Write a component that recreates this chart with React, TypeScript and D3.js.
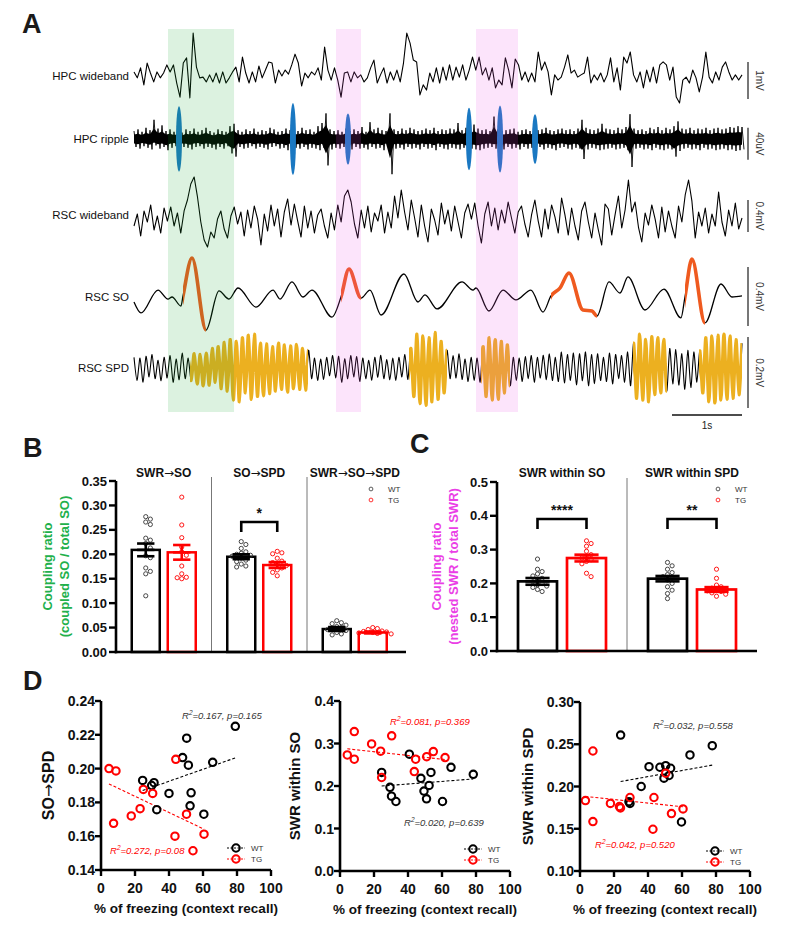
import React from 'react';
import * as d3 from 'd3';

const FONT = "Arial, 'Liberation Sans', Helvetica, sans-serif";

// ---------------- Panel A data ----------------
const traceDuration = 8.686; // seconds shown
const hpcWideband = [
  0.11,-0.05,0.22,-0.24,0.35,0.08,-0.16,0.11,-0.05,0.08,
  0.30,0.11,0.30,-0.19,-0.57,0.35,0.49,-0.59,1.16,0.24,
  -0.05,-0.03,-0.16,0.03,-0.16,0.08,-0.19,0.11,-0.19,-0.05,
  0.11,0.24,-0.16,0.51,0.08,-0.19,0.11,-0.16,0.27,-0.05,
  0.16,0.38,0.35,-0.19,0.16,0,0.16,0.05,0.30,0.59,
  0.35,-0.27,0.08,-0.05,0.11,0.03,0.22,-0.11,0.78,0.16,
  -0.11,0.22,-0.11,-0.57,0.08,0.11,-0.16,0.11,-0.05,0.03,
  -0.16,-0.05,0.22,0.43,-0.19,0.03,0.22,-0.19,0.11,-0.11,
  0.16,-0.16,0.35,
  1.16,0.89,0.43,0.38,-0.51,-0.24,-0.38,0.08,-0.16,0.22,
  -0.19,0.24,-0.11,0.30,-0.11,0.24,-0.03,0.30,-0.11,0.16,
  0.51,0.16,0.51,0.03,0.22,-0.11,0.22,-0.32,-0.11,-0.24,
  0.49,0.16,-0.32,0.46,0.30,-0.11,0.11,-0.16,0.08,-0.16,
  0.65,0.16,0.38,0.11,-0.51,0.03,-0.11,-0.03,0.24,0.57,
  0.08,0.16,-0.03,0.03,0.08,0.51,-0.19,0.03,-0.11,0.08,
  -0.16,0.03,0.49,-0.16,0.22,-0.38,0.51,0.35,0.65,0.03,
  -0.16,0.11,-0.32,0.16,-0.16,0.24,-0.19,0.30,0.38,0.30,
  -0.11,0.24,-0.57,-0.73,-0.11,-0.03,-0.19,0.16,-0.05,-0.43,
  -0.03,0.65,-0.03,-0.19,0.11,-0.11,0.24,0.38,0.11,-0.11,
  0.03,-0.11,0.03,
]; // mV

const rippleUpper = [
  10,12,9,14,11,24,13,17,10,12, 9,11,8,12,10,13,9,11,14,10,
  8,12,10,9,16,19,11,9,12,10, 13,9,11,10,14,12,9,10,13,11,
  12,10,14,11,12,9,16,20,32,12, 10,11,9,13,10,12,10,15,9,21,
  12,14,11,10,32,12,10,13,11,14, 12,10,11,13,11,14,10,12,11,13,
  12,20,11,14,12,18,13,11,12,10, 28,12,10,11,12,13,9,11,12,10,
  13,11,12,14,11,10,12,13,11,12, 10,13,24,14,12,11,13,19,13,12,
  11,14,12,15,31,13,11,12,10,14, 12,15,11,14,12,16,22,13,12,14,
  11,13,12,14,11,13,14,12,13,15,14,16,15,
]; // µV
const rippleLower = [
  -10,-12,-9,-11,-13,-8,-12,-10,-14,-11, -9,-12,-10,-11,-13,-10,-9,-12,-10,-11,
  -13,-10,-12,-9,-18,-22,-10,-12,-11,-9, -12,-10,-11,-13,-10,-9,-12,-11,-14,-10,
  -11,-12,-10,-13,-11,-12,-14,-11,-33,-13, -11,-12,-10,-11,-13,-10,-12,-11,-13,-10,
  -12,-11,-14,-10,-44,-12,-11,-13,-10,-12, -11,-13,-10,-12,-11,-14,-10,-12,-13,-11,
  -12,-13,-11,-15,-12,-13,-14,-12,-11,-10, -12,-11,-13,-10,-12,-11,-13,-10,-12,-11,
  -12,-10,-13,-11,-12,-14,-11,-10,-12,-13, -11,-12,-25,-13,-11,-12,-14,-13,-12,-11,
  -13,-12,-11,-14,-35,-12,-11,-13,-12,-14, -11,-13,-14,-12,-13,-22,-15,-12,-11,-13,
  -12,-14,-11,-13,-12,-14,-13,-12,-14,-13,-15,-14,-13,
]; // µV
const rippleEventTimes = [0.643, 2.271, 3.057, 4.786, 5.229, 5.729]; // s
const rippleEventAmps = [41, 45, 32, 39, 42, 31]; // µV

const rscWideband = [
  -100,50,-225,88,-50,163,-150,25,-188,125,-38,138,-100,63,-188,88,225,425,513,263,-50,-275,-363,-175,-250,-13,88,-138,-250,25,
  138,-75,75,-225,100,-125,150,-13,-338,50,-163,163,-100,113,-238,75,238,-88,175,-38,-238,150,-125,88,-188,38,113,-100,-250,63,-150,
  163,-50,275,350,200,-75,-250,100,-125,150,-175,63,-38,163,-188,75,-125,275,0,
  350,75,-150,225,0,-238,163,-100,-300,113,-25,-213,188,-75,100,-163,150,-50,-250,63,175,-13,188,-100,
  -313,50,200,-100,125,-150,100,-63,200,0,-188,75,150,-75,-238,38,225,-38,-238,113,-138,163,13,-188,
  250,38,-213,125,-100,-275,88,200,-50,-250,63,-150,-338,175,113,-213,38,275,-125,100,475,75,200,-113,
  -300,63,-88,163,-13,-250,138,-175,88,-100,-250,150,-50,288,475,213,-250,75,-100,125,-188,50,-100,325,-50,-225,100,-100,188,-138,0,
]; // µV

const soTimes = [
  0,0.1,0.343,0.486,0.543,0.671,0.7,0.829,1.029,1.214,1.357,1.486,1.743,1.986,2.086,2.257,2.414,2.543,2.829,2.957,
  3.071,3.243,3.371,3.529,3.857,4.057,4.157,4.329,4.686,4.843,4.886,5.071,5.271,5.457,5.671,5.843,5.957,6.086,6.214,6.414,
  6.543,6.614,6.786,6.943,7.057,7.3,7.571,7.814,7.871,7.971,8.157,8.386,8.543,8.686,
];
const soValues = [
  -0.034,-0.108,0.047,-0.014,0,-0.061,0.007,0.264,-0.224,0.041,-0.014,0.061,-0.068,0.047,-0.014,0.102,0,0.047,-0.136,0,
  0.19,-0.007,0.047,-0.122,0.156,-0.034,0.014,-0.081,0.102,0.047,0.061,-0.095,0.047,-0.02,0.047,-0.102,0.007,0.061,0.163,-0.088,
  -0.095,-0.129,0.102,0.027,0.136,-0.088,0.054,-0.142,0,0.258,-0.176,0.088,0,0.007,
]; // mV
const soEventWindows = [[0.7, 1.029], [2.957, 3.243], [5.957, 6.614], [7.871, 8.157]];

const spdValues = [
  30,-35,28,-40,33,-25,38,-30,22,-36,30,-28,35,-40,25,-33,42,-30,28,
  -35,40,-45,38,-50,42,-48,55,-40,60,-58,72,-65,80,-90,75,-95,85,-70,92,-88,95,-80,70,-78,68,-72,60,-65,70,-60,65,-68,62,-58,66,-60,55,-62,50,
  -30,28,-35,25,-32,30,-22,35,-28,33,-40,26,-30,35,-25,32,-38,28,-30,22,-34,30,-26,36,-30,24,-33,28,-35,30,-25,38,-32,
  55,-80,95,-100,90,-105,85,-95,100,-88,75,-70,50,
  -30,35,-28,40,-32,25,-38,30,-35,28,-40,
  60,-80,85,-90,80,-88,75,-70,65,-50,
  30,-35,28,-38,32,-30,35,-40,30,-28,36,-33,40,-35,30,-38,45,-42,38,-35,42,-48,40,-36,45,-50,38,-44,40,-35,30,-38,42,-45,38,-30,35,-40,45,-50,
  70,-85,95,-90,80,-95,88,-75,85,-70,80,-65,55,
  -45,52,-48,40,-60,50,-55,45,-40,48,
  -70,85,-95,90,-98,92,-90,95,-88,90,-85,80,-75,70,
]; // µV
const spdEventWindows = [[0.8, 2.486], [3.929, 4.471], [4.957, 5.371], [7.129, 7.614], [8.071, 8.686]];
const greenWindows = [[0.486, 1.429]];
const pinkWindows = [[2.886, 3.243], [4.886, 5.486]];

// ---------------- Panel B data ----------------
const bGroups = ['SWR→SO', 'SO→SPD', 'SWR→SO→SPD'];
const bWTMean = [0.209, 0.195, 0.047];
const bWTSem = [0.013, 0.005, 0.004];
const bTGMean = [0.204, 0.178, 0.040];
const bTGSem = [0.015, 0.006, 0.002];
const bWTDots = [
  [0.277, 0.272, 0.266, 0.261, 0.233, 0.229, 0.222, 0.213, 0.197, 0.193, 0.172, 0.165, 0.160, 0.115],
  [0.226, 0.220, 0.212, 0.205, 0.202, 0.200, 0.198, 0.196, 0.192, 0.188, 0.185, 0.180, 0.176, 0.174],
  [0.064, 0.060, 0.058, 0.055, 0.052, 0.050, 0.048, 0.046, 0.044, 0.040, 0.037, 0.035],
];
const bTGDots = [
  [0.317, 0.260, 0.234, 0.215, 0.205, 0.198, 0.176, 0.160, 0.153, 0.152, 0.150],
  [0.206, 0.203, 0.201, 0.192, 0.186, 0.183, 0.180, 0.177, 0.172, 0.168, 0.163, 0.156],
  [0.050, 0.048, 0.046, 0.043, 0.042, 0.041, 0.040, 0.039, 0.038, 0.037],
];
const bTicks = [0, 0.05, 0.1, 0.15, 0.2, 0.25, 0.3, 0.35];

// ---------------- Panel C data ----------------
const cGroups = ['SWR within SO', 'SWR within SPD'];
const cWTMean = [0.206, 0.214];
const cWTSem = [0.010, 0.008];
const cTGMean = [0.275, 0.182];
const cTGSem = [0.010, 0.007];
const cWTDots = [
  [0.272, 0.242, 0.235, 0.228, 0.222, 0.215, 0.210, 0.205, 0.200, 0.196, 0.192, 0.188, 0.182, 0.176],
  [0.262, 0.252, 0.242, 0.232, 0.226, 0.220, 0.215, 0.210, 0.200, 0.190, 0.180, 0.170, 0.155],
];
const cTGDots = [
  [0.326, 0.318, 0.310, 0.295, 0.285, 0.280, 0.275, 0.270, 0.265, 0.258, 0.230, 0.220],
  [0.242, 0.215, 0.195, 0.190, 0.186, 0.183, 0.180, 0.178, 0.176, 0.172, 0.168, 0.162],
];
const cTicks = [0, 0.1, 0.2, 0.3, 0.4, 0.5];
const cStars = ['****', '**'];

// ---------------- Panel D data ----------------
const freezeTicks = [0, 20, 40, 60, 80, 100];
const d1WTx = [79, 50.4, 48, 51.4, 65.7, 24.5, 31.2, 29.8, 40, 53, 52.4, 60.5, 32.8];
const d1WTy = [0.225, 0.218, 0.2065, 0.202, 0.2037, 0.193, 0.1917, 0.19, 0.1853, 0.1857, 0.178, 0.173, 0.1757];
const d1TGx = [4.7, 8.8, 44, 24.9, 30.4, 7.4, 17.8, 23, 43.5, 50.3, 54.1, 60.6];
const d1TGy = [0.2, 0.1986, 0.2055, 0.1877, 0.1853, 0.1676, 0.172, 0.1763, 0.16, 0.173, 0.1514, 0.1612];
const d1Fit = { wtSlope: 0.000355, wtIntercept: 0.1783, tgSlope: -0.000479, tgIntercept: 0.1932 };

const d2WTx = [40.8, 24.5, 53.5, 65.3, 78.4, 47.6, 29.4, 52.4, 49.4, 30.3, 32.9, 50.9, 60.3];
const d2WTy = [0.275, 0.232, 0.232, 0.244, 0.2275, 0.218, 0.197, 0.2014, 0.188, 0.176, 0.1635, 0.1698, 0.1635];
const d2TGx = [4.3, 8.4, 8.4, 18.6, 23.9, 30.4, 44.5, 51, 54.9, 61.8, 43.7, 24.5];
const d2TGy = [0.273, 0.328, 0.263, 0.299, 0.282, 0.318, 0.263, 0.269, 0.281, 0.267, 0.234, 0.220];
const d2Fit = { wtSlope: 0.000306, wtIntercept: 0.1925, tgSlope: -0.000439, tgIntercept: 0.2894 };

const d3WTx = [23.9, 77.8, 64.7, 40.6, 47, 50.4, 53.3, 52.4, 49.4, 36, 28.8, 29.4, 59.7];
const d3WTy = [0.2608, 0.2483, 0.2373, 0.2235, 0.2228, 0.2247, 0.2216, 0.213, 0.2099, 0.200, 0.182, 0.180, 0.158];
const d3TGx = [3.2, 7.6, 17.9, 23.2, 23.8, 29.4, 43.5, 42.9, 53.8, 60.6, 7.6, 50.4];
const d3TGy = [0.1834, 0.1585, 0.180, 0.1763, 0.1747, 0.187, 0.187, 0.1494, 0.168, 0.1735, 0.242, 0.2157];
const d3Fit = { wtSlope: 0.00036, wtIntercept: 0.1973, tgSlope: -0.000213, tgIntercept: 0.1889 };

const dStats = [
  { wt: ['0.167', '0.165'], tg: ['0.272', '0.08'] },
  { wt: ['0.020', '0.639'], tg: ['0.081', '0.369'] },
  { wt: ['0.032', '0.558'], tg: ['0.042', '0.520'] },
];

// ---------------- helpers ----------------
function swarm(values: number[], y: (v: number) => number, r: number, step: number): number[] {
  const placed: { x: number; y: number }[] = [];
  return values.map((v) => {
    const py = y(v);
    const cands = [0];
    for (let k = 1; k < 10; k++) cands.push(k * step, -k * step);
    let off = 0;
    for (const c of cands) {
      if (placed.every((p) => (p.x - c) ** 2 + (p.y - py) ** 2 >= (2 * r + 0.4) ** 2)) { off = c; break; }
    }
    placed.push({ x: off, y: py });
    return off;
  });
}

const GREEN_OVER = 'rgb(21,168,48)';
const PINK_OVER = 'rgb(235,75,229)';
const RED = '#ff0000';
const GOLD = '#ecb020';
const SO_ORANGE = '#ef5a1f';
const BLUE = '#1a78c2';
const ARROW_FONT = "'DejaVu Sans', Arial, sans-serif";

function ArrowLabel(props: { text: string; x: number; y: number; size: number; anchor?: string; transform?: string }) {
  const parts = props.text.split('→');
  return (
    <text x={props.x} y={props.y} transform={props.transform} fontSize={props.size} fontWeight="bold" textAnchor={props.anchor || 'middle'} fill="#111">
      {parts.map((s, i) => (
        <React.Fragment key={i}>
          {i > 0 && <tspan fontFamily={ARROW_FONT} fontWeight="normal">→</tspan>}
          <tspan>{s}</tspan>
        </React.Fragment>
      ))}
    </text>
  );
}

function PanelA() {
  const t = d3.scaleLinear().domain([0, traceDuration]).range([134, 742]);
  const idxT = (n: number) => (i: number) => t((i * traceDuration) / (n - 1));

  const yHW = d3.scaleLinear().domain([-1, 1]).range([76 + 37, 76 - 37]);
  const yRip = d3.scaleLinear().domain([-40, 40]).range([139 + 32, 139 - 32]);
  const yRW = d3.scaleLinear().domain([-400, 400]).range([218 + 32, 218 - 32]);
  const ySO = d3.scaleLinear().domain([-0.2, 0.2]).range([297 + 29.5, 297 - 29.5]);
  const ySPD = d3.scaleLinear().domain([-100, 100]).range([368 + 35.5, 368 - 35.5]);

  const xHW = idxT(hpcWideband.length);
  const hwPath = d3.line<number>().x((_, i) => xHW(i)).y((v) => yHW(v))(hpcWideband) || '';
  const nR = rippleUpper.length;
  const xRip = idxT(nR);
  const dtR = (t(traceDuration) - t(0)) / (nR - 1);
  const ripCore = d3.area<number>().x((_, i) => xRip(i)).y1((v) => yRip(v * 0.55)).y0((_, i) => yRip(rippleLower[i] * 0.55))(rippleUpper) || '';
  const zig: [number, number][] = [];
  rippleUpper.forEach((v, i) => {
    zig.push([xRip(i), yRip(v)]);
    zig.push([xRip(i) + dtR / 2, yRip(rippleLower[i])]);
  });
  const ripZig = d3.line()(zig) || '';
  const xRW = idxT(rscWideband.length);
  const rwPath = d3.line<number>().x((_, i) => xRW(i)).y((v) => yRW(v))(rscWideband) || '';
  const soPath = d3.line<number>().x((_, i) => t(soTimes[i])).y((v) => ySO(v)).curve(d3.curveMonotoneX)(soValues) || '';
  const xSPD = idxT(spdValues.length);
  const spdPath = d3.line<number>().x((_, i) => xSPD(i)).y((v) => ySPD(v)).curve(d3.curveCardinal.tension(0.3))(spdValues) || '';

  const rows = [
    { label: 'HPC wideband', cy: 76 },
    { label: 'HPC ripple', cy: 139 },
    { label: 'RSC wideband', cy: 215 },
    { label: 'RSC SO', cy: 297 },
    { label: 'RSC SPD', cy: 368 },
  ];
  const bars = [
    { text: '1mV', y0: yHW(-0.62), y1: yHW(0.38) },
    { text: '40uV', y0: yRip(-26), y1: yRip(14) },
    { text: '0.4mV', y0: yRW(-175), y1: yRW(225) },
    { text: '0.4mV', y0: ySO(-0.197), y1: ySO(0.203) },
    { text: '0.2mV', y0: ySPD(-113), y1: ySPD(87) },
  ];

  return (
    <g>
      <defs>
        {soEventWindows.map((w, i) => (
          <clipPath id={`soclip${i}`} key={i}>
            <rect x={t(w[0])} y={250} width={t(w[1]) - t(w[0])} height={95} />
          </clipPath>
        ))}
        {spdEventWindows.map((w, i) => (
          <clipPath id={`spdclip${i}`} key={i}>
            <rect x={t(w[0])} y={325} width={t(w[1]) - t(w[0])} height={90} />
          </clipPath>
        ))}
      </defs>
      <text x={22} y={33} fontSize={27} fontWeight="bold" fill="#1a1a1a">A</text>
      {rows.map((r) => (
        <text key={r.label} x={129} y={r.cy + 4} fontSize={11.5} textAnchor="end" fill="#111">{r.label}</text>
      ))}
      <path d={hwPath} fill="none" stroke="#000" strokeWidth={1.1} strokeLinejoin="round" />
      <path d={ripCore} fill="#000" stroke="none" />
      <path d={ripZig} fill="none" stroke="#000" strokeWidth={0.9} />
      {rippleEventTimes.map((tt, i) => (
        <ellipse key={i} cx={t(tt)} cy={139} rx={3} ry={yRip(0) - yRip(rippleEventAmps[i])} fill={BLUE} />
      ))}
      <path d={rwPath} fill="none" stroke="#000" strokeWidth={1.1} strokeLinejoin="round" />
      <path d={soPath} fill="none" stroke="#000" strokeWidth={1.3} />
      {soEventWindows.map((_, i) => (
        <path key={i} d={soPath} fill="none" stroke={SO_ORANGE} strokeWidth={3.6} clipPath={`url(#soclip${i})`} />
      ))}
      <path d={spdPath} fill="none" stroke="#000" strokeWidth={1.1} />
      {spdEventWindows.map((_, i) => (
        <path key={i} d={spdPath} fill="none" stroke={GOLD} strokeWidth={3.4} clipPath={`url(#spdclip${i})`} />
      ))}
      {greenWindows.map((w, i) => (
        <rect key={i} x={t(w[0])} y={29} width={t(w[1]) - t(w[0])} height={383} fill={GREEN_OVER} opacity={0.15} />
      ))}
      {pinkWindows.map((w, i) => (
        <rect key={i} x={t(w[0])} y={29} width={t(w[1]) - t(w[0])} height={383} fill={PINK_OVER} opacity={0.15} />
      ))}
      {bars.map((b, i) => (
        <g key={i}>
          <line x1={748} x2={748} y1={b.y0} y2={b.y1} stroke="#555" strokeWidth={1.6} />
          <text transform={`translate(756,${(b.y0 + b.y1) / 2}) rotate(90)`} fontSize={10} textAnchor="middle" fill="#333">{b.text}</text>
        </g>
      ))}
      <line x1={t(traceDuration - 1)} x2={t(traceDuration)} y1={415} y2={415} stroke="#111" strokeWidth={1.3} />
      <text x={(t(traceDuration - 1) + t(traceDuration)) / 2} y={429} fontSize={10} textAnchor="middle" fill="#222">1s</text>
    </g>
  );
}

function BarPanel(props: {
  groups: string[]; wtMean: number[]; wtSem: number[]; tgMean: number[]; tgSem: number[];
  wtDots: number[][]; tgDots: number[][]; ticks: number[]; yDomain: [number, number]; yRange: [number, number];
  xRange: [number, number]; axisEnd: number; barW: number; off: number; tickFmt: (v: number) => string;
  labelColor: string; label1: string; label2: string; labelX: [number, number]; stars: (string | null)[];
  legendX: number; letter: string; letterX: number; letterY: number; strokeW: number; bracketY: number; starY: number;
}) {
  const p = props;
  const y = d3.scaleLinear().domain(p.yDomain).range(p.yRange);
  const x = d3.scaleBand().domain(p.groups).range(p.xRange);
  const bw = x.bandwidth();
  const axisX = p.xRange[0];
  const y0 = y(0);
  const r = 2.1;
  const midY = (p.yRange[0] + p.yRange[1]) / 2;
  return (
    <g>
      <text x={p.letterX} y={p.letterY} fontSize={27} fontWeight="bold" fill="#1a1a1a">{p.letter}</text>
      {p.groups.slice(1).map((g) => (
        <line key={g} x1={x(g)} x2={x(g)} y1={p.yRange[1] - 4} y2={y0} stroke="#777" strokeWidth={1} />
      ))}
      {p.groups.map((g, gi) => {
        const cx = (x(g) || 0) + bw / 2;
        const items = [
          { cx: cx - p.off, mean: p.wtMean[gi], sem: p.wtSem[gi], dots: p.wtDots[gi], col: '#000', dotCol: '#333' },
          { cx: cx + p.off, mean: p.tgMean[gi], sem: p.tgSem[gi], dots: p.tgDots[gi], col: RED, dotCol: RED },
        ];
        return (
          <g key={g}>
            <ArrowLabel text={g} x={cx} y={477} size={12} />
            {items.map((it, k) => {
              const offs = swarm(it.dots, y, r, 4.6);
              const cap = p.barW * 0.62;
              return (
                <g key={k}>
                  <rect x={it.cx - p.barW / 2} y={y(it.mean)} width={p.barW} height={y0 - y(it.mean)} fill="#fff" stroke={it.col} strokeWidth={p.strokeW} />
                  {it.dots.map((v, j) => (
                    <circle key={j} cx={it.cx + offs[j]} cy={y(v)} r={r} fill="none" stroke={it.dotCol} strokeWidth={0.9} />
                  ))}
                  <line x1={it.cx} x2={it.cx} y1={y(it.mean - it.sem)} y2={y(it.mean + it.sem)} stroke={it.col} strokeWidth={2.6} />
                  <line x1={it.cx - cap / 2} x2={it.cx + cap / 2} y1={y(it.mean + it.sem)} y2={y(it.mean + it.sem)} stroke={it.col} strokeWidth={2.6} />
                  <line x1={it.cx - cap / 2} x2={it.cx + cap / 2} y1={y(it.mean - it.sem)} y2={y(it.mean - it.sem)} stroke={it.col} strokeWidth={2.6} />
                  <line x1={it.cx - cap / 2} x2={it.cx + cap / 2} y1={y(it.mean)} y2={y(it.mean)} stroke={it.col} strokeWidth={2.6} />
                </g>
              );
            })}
            {p.stars[gi] && (
              <g>
                <path d={`M${cx - p.off},${p.bracketY + 10}V${p.bracketY}H${cx + p.off}V${p.bracketY + 10}`} fill="none" stroke="#000" strokeWidth={2.6} />
                <text x={cx} y={p.starY} fontSize={14} fontWeight="bold" textAnchor="middle" fill="#111">{p.stars[gi]}</text>
              </g>
            )}
          </g>
        );
      })}
      <line x1={axisX} x2={axisX} y1={p.yRange[1]} y2={y0 + 1.3} stroke="#000" strokeWidth={2.6} />
      <line x1={axisX - 1.3} x2={p.axisEnd} y1={y0} y2={y0} stroke="#000" strokeWidth={2.6} />
      {p.ticks.map((v) => (
        <g key={v}>
          <line x1={axisX - 7} x2={axisX} y1={y(v)} y2={y(v)} stroke="#000" strokeWidth={2.4} />
          <text x={axisX - 9} y={y(v) + 4.6} fontSize={13} fontWeight="bold" textAnchor="end" fill="#111">{p.tickFmt(v)}</text>
        </g>
      ))}
      <text transform={`translate(${p.labelX[0]},${midY}) rotate(-90)`} fontSize={13} fontWeight="bold" textAnchor="middle" fill={p.labelColor}>{p.label1}</text>
      <text transform={`translate(${p.labelX[1]},${midY}) rotate(-90)`} fontSize={13} fontWeight="bold" textAnchor="middle" fill={p.labelColor}>{p.label2}</text>
      <circle cx={p.legendX} cy={489} r={1.9} fill="none" stroke="#333" strokeWidth={0.8} />
      <text x={p.legendX + 17} y={492} fontSize={8} fill="#333">WT</text>
      <circle cx={p.legendX} cy={500} r={1.9} fill="none" stroke={RED} strokeWidth={0.8} />
      <text x={p.legendX + 17} y={503} fontSize={8} fill="#333">TG</text>
    </g>
  );
}

function Scatter(props: {
  xRange: [number, number]; yDomain: [number, number]; yRange: [number, number]; yTicks: number[]; fmt: (v: number) => string;
  wtx: number[]; wty: number[]; tgx: number[]; tgy: number[];
  fit: { wtSlope: number; wtIntercept: number; tgSlope: number; tgIntercept: number };
  stats: { wt: string[]; tg: string[] }; ylabel: string; ylabelX: number; ylabelSize: number;
  wtText: [number, number]; tgText: [number, number]; legend: [number, number];
}) {
  const p = props;
  const x = d3.scaleLinear().domain([0, 100]).range(p.xRange);
  const y = d3.scaleLinear().domain(p.yDomain).range(p.yRange);
  const ax = p.xRange[0];
  const ay = p.yRange[0];
  const wtMin = d3.min(p.wtx) || 0, wtMax = d3.max(p.wtx) || 0;
  const tgMin = d3.min(p.tgx) || 0, tgMax = d3.max(p.tgx) || 0;
  const Rtext = (pos: [number, number], vals: string[], col: string) => (
    <text x={pos[0]} y={pos[1]} fontSize={9.5} fontStyle="italic" fill={col}>
      <tspan>R</tspan>
      <tspan dy={-4} fontSize={6.5}>2</tspan>
      <tspan dy={4}>{`=${vals[0]}, p=${vals[1]}`}</tspan>
    </text>
  );
  const midY = (p.yRange[0] + p.yRange[1]) / 2;
  const midX = (p.xRange[0] + p.xRange[1]) / 2;
  return (
    <g>
      <line x1={x(wtMin)} x2={x(wtMax)} y1={y(p.fit.wtIntercept + p.fit.wtSlope * wtMin)} y2={y(p.fit.wtIntercept + p.fit.wtSlope * wtMax)} stroke="#000" strokeWidth={1.1} strokeDasharray="3,2" />
      <line x1={x(tgMin)} x2={x(tgMax)} y1={y(p.fit.tgIntercept + p.fit.tgSlope * tgMin)} y2={y(p.fit.tgIntercept + p.fit.tgSlope * tgMax)} stroke={RED} strokeWidth={1.1} strokeDasharray="3,2" />
      {p.wtx.map((v, i) => (
        <circle key={'w' + i} cx={x(v)} cy={y(p.wty[i])} r={3.7} fill="none" stroke="#000" strokeWidth={2.1} />
      ))}
      {p.tgx.map((v, i) => (
        <circle key={'t' + i} cx={x(v)} cy={y(p.tgy[i])} r={3.7} fill="none" stroke={RED} strokeWidth={2.1} />
      ))}
      <line x1={ax} x2={ax} y1={p.yRange[1]} y2={ay + 1.3} stroke="#000" strokeWidth={2.6} />
      <line x1={ax - 1.3} x2={p.xRange[1]} y1={ay} y2={ay} stroke="#000" strokeWidth={2.6} />
      {p.yTicks.map((v) => (
        <g key={v}>
          <line x1={ax - 6} x2={ax} y1={y(v)} y2={y(v)} stroke="#000" strokeWidth={2.4} />
          <text x={ax - 6} y={y(v) + 5} fontSize={14} fontWeight="bold" textAnchor="end" fill="#111">{p.fmt(v)}</text>
        </g>
      ))}
      {freezeTicks.map((v) => (
        <g key={v}>
          <line x1={x(v)} x2={x(v)} y1={ay} y2={ay + 6} stroke="#000" strokeWidth={2.4} />
          <text x={x(v)} y={ay + 23} fontSize={14} fontWeight="bold" textAnchor="middle" fill="#111">{v}</text>
        </g>
      ))}
      <text x={midX} y={ay + 43} fontSize={13.5} fontWeight="bold" textAnchor="middle" fill="#111">% of freezing (context recall)</text>
      <ArrowLabel text={p.ylabel} x={0} y={0} size={p.ylabelSize} transform={`translate(${p.ylabelX},${midY}) rotate(-90)`} />
      {Rtext(p.wtText, p.stats.wt, '#333')}
      {Rtext(p.tgText, p.stats.tg, RED)}
      <g>
        <line x1={p.legend[0] - 9} x2={p.legend[0] + 9} y1={p.legend[1]} y2={p.legend[1]} stroke="#000" strokeWidth={1} strokeDasharray="2,1.5" />
        <circle cx={p.legend[0]} cy={p.legend[1]} r={3.7} fill="none" stroke="#000" strokeWidth={2.1} />
        <text x={p.legend[0] + 15} y={p.legend[1] + 3} fontSize={8} fill="#333">WT</text>
        <line x1={p.legend[0] - 9} x2={p.legend[0] + 9} y1={p.legend[1] + 11} y2={p.legend[1] + 11} stroke={RED} strokeWidth={1} strokeDasharray="2,1.5" />
        <circle cx={p.legend[0]} cy={p.legend[1] + 11} r={3.7} fill="none" stroke={RED} strokeWidth={2.1} />
        <text x={p.legend[0] + 15} y={p.legend[1] + 14} fontSize={8} fill="#333">TG</text>
      </g>
    </g>
  );
}

export default function App() {
  const fmt2 = (v: number) => v.toFixed(2);
  const fmt1 = (v: number) => v.toFixed(1);
  return (
    <svg width={788} height={925} style={{ position: 'absolute', left: 0, top: 0 }} fontFamily={FONT}>
      <rect width={788} height={925} fill="#fff" />
      <PanelA />
      <BarPanel
        groups={bGroups} wtMean={bWTMean} wtSem={bWTSem} tgMean={bTGMean} tgSem={bTGSem}
        wtDots={bWTDots} tgDots={bTGDots} ticks={bTicks} yDomain={[0, 0.35]} yRange={[652, 481]}
        xRange={[116, 402.5]} axisEnd={406} barW={28} off={18} tickFmt={fmt2}
        labelColor="#22b04b" label1="Coupling ratio" label2="(coupled SO / total SO)" labelX={[52, 69]}
        stars={[null, '*', null]} legendX={371} letter="B" letterX={23} letterY={457} strokeW={2.5} bracketY={522} starY={518}
      />
      <BarPanel
        groups={cGroups} wtMean={cWTMean} wtSem={cWTSem} tgMean={cTGMean} tgSem={cTGSem}
        wtDots={cWTDots} tgDots={cTGDots} ticks={cTicks} yDomain={[0, 0.5]} yRange={[651, 482]}
        xRange={[497, 757]} axisEnd={757} barW={39} off={24.5} tickFmt={fmt1}
        labelColor="#ea3fe6" label1="Coupling ratio" label2="(nested SWR / total SWR)" labelX={[441, 458]}
        stars={cStars} legendX={718} letter="C" letterX={410} letterY={453} strokeW={2.7} bracketY={519} starY={515}
      />
      <text x={23} y={690} fontSize={27} fontWeight="bold" fill="#1a1a1a">D</text>
      <Scatter
        xRange={[101, 271]} yDomain={[0.14, 0.24]} yRange={[870, 701]} yTicks={[0.14, 0.16, 0.18, 0.2, 0.22, 0.24]} fmt={fmt2}
        wtx={d1WTx} wty={d1WTy} tgx={d1TGx} tgy={d1TGy} fit={d1Fit} stats={dStats[0]}
        ylabel="SO→SPD" ylabelX={54} ylabelSize={16} wtText={[182, 719]} tgText={[110, 854]} legend={[236, 848]}
      />
      <Scatter
        xRange={[340, 510]} yDomain={[0, 0.4]} yRange={[871, 701]} yTicks={[0, 0.1, 0.2, 0.3, 0.4]} fmt={fmt1}
        wtx={d2WTx} wty={d2WTy} tgx={d2TGx} tgy={d2TGy} fit={d2Fit} stats={dStats[1]}
        ylabel="SWR within SO" ylabelX={300} ylabelSize={15} wtText={[404, 826]} tgText={[390, 725]} legend={[473, 849]}
      />
      <Scatter
        xRange={[580, 750]} yDomain={[0.1, 0.3]} yRange={[871, 702]} yTicks={[0.1, 0.15, 0.2, 0.25, 0.3]} fmt={fmt2}
        wtx={d3WTx} wty={d3WTy} tgx={d3TGx} tgy={d3TGy} fit={d3Fit} stats={dStats[2]}
        ylabel="SWR within SPD" ylabelX={533} ylabelSize={15} wtText={[653, 729]} tgText={[595, 848]} legend={[715, 851]}
      />
    </svg>
  );
}
